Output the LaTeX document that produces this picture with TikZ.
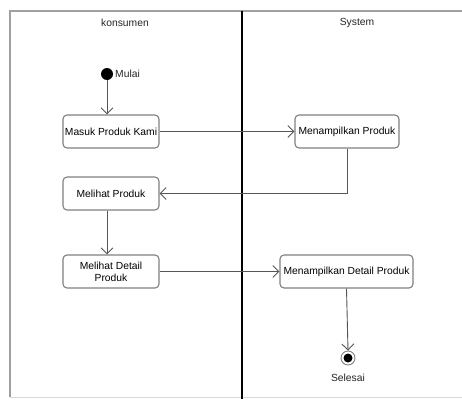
\documentclass[tikz,border=0pt]{standalone}
\usepackage{fontspec}
\setmainfont{Liberation Sans}
\usetikzlibrary{arrows.meta}
\definecolor{boxgray}{HTML}{808080}
\definecolor{linegray}{HTML}{555555}
\definecolor{framegray}{HTML}{A0A0A0}
\begin{document}
\begin{tikzpicture}[x=1pt,y=-1pt,
  font=\fontsize{10.3}{12}\selectfont,
  actbox/.style={draw=boxgray, line width=1.1pt, rounded corners=4pt, fill=white, minimum height=33pt, align=center, inner sep=1pt},
  flow/.style={draw=linegray, line width=0.9pt, -{Straight Barb[length=6pt,width=12pt,line width=0.9pt]}},
  lbl/.style={text=black!85}]
\useasboundingbox (0,0) rectangle (462,399);
\fill[white] (0,0) rectangle (462,399);
% frame
\draw[framegray, line width=1.4pt] (463,11) -- (10,11) -- (10,397);
\draw[framegray!40, line width=0.8pt] (10,397) -- (463,397);
\draw[black, line width=1.2pt] (242,11) -- (242,399);
% lane titles
\node[lbl] (lane1) at (125,23) {konsumen};
\node[lbl] (lane2) at (357,23) {System};
% nodes
\node[circle, fill=black, minimum size=12pt, inner sep=0pt] (start) at (107,74) {};
\node[lbl, anchor=west, inner sep=1pt] (mulai) at (114,74) {Mulai};
\node[actbox, minimum width=96pt] (masuk) at (111,131.5) {Masuk Produk Kami};
\node[actbox, minimum width=104pt] (tampil1) at (347,131.5) {Menampilkan Produk};
\node[actbox, minimum width=96pt] (lihat) at (111,193.5) {Melihat Produk};
\node[actbox, minimum width=96pt] (detail) at (111,271.5) {Melihat Detail\\Produk};
\node[actbox, minimum width=133pt] (tampil2) at (346.5,271.5) {Menampilkan Detail Produk};
\node[circle, draw=boxgray, line width=0.9pt, fill=white, minimum size=14pt, inner sep=0pt] (endo) at (348,358) {};
\node[circle, fill=black, minimum size=9pt, inner sep=0pt] (endi) at (348,358) {};
\node[lbl] (selesai) at (348,378) {Selesai};
% flows
\draw[flow] (start) -- (start |- masuk.north);
\draw[flow] (masuk.east) -- (tampil1.west);
\draw[flow] (tampil1.south) |- (lihat.east);
\draw[flow] (lihat.south -| start) -- (detail.north -| start);
\draw[flow] (detail.east) -- (tampil2.west);
\draw[flow] (tampil2.south) -- (endo.north);
\end{tikzpicture}
\end{document}
